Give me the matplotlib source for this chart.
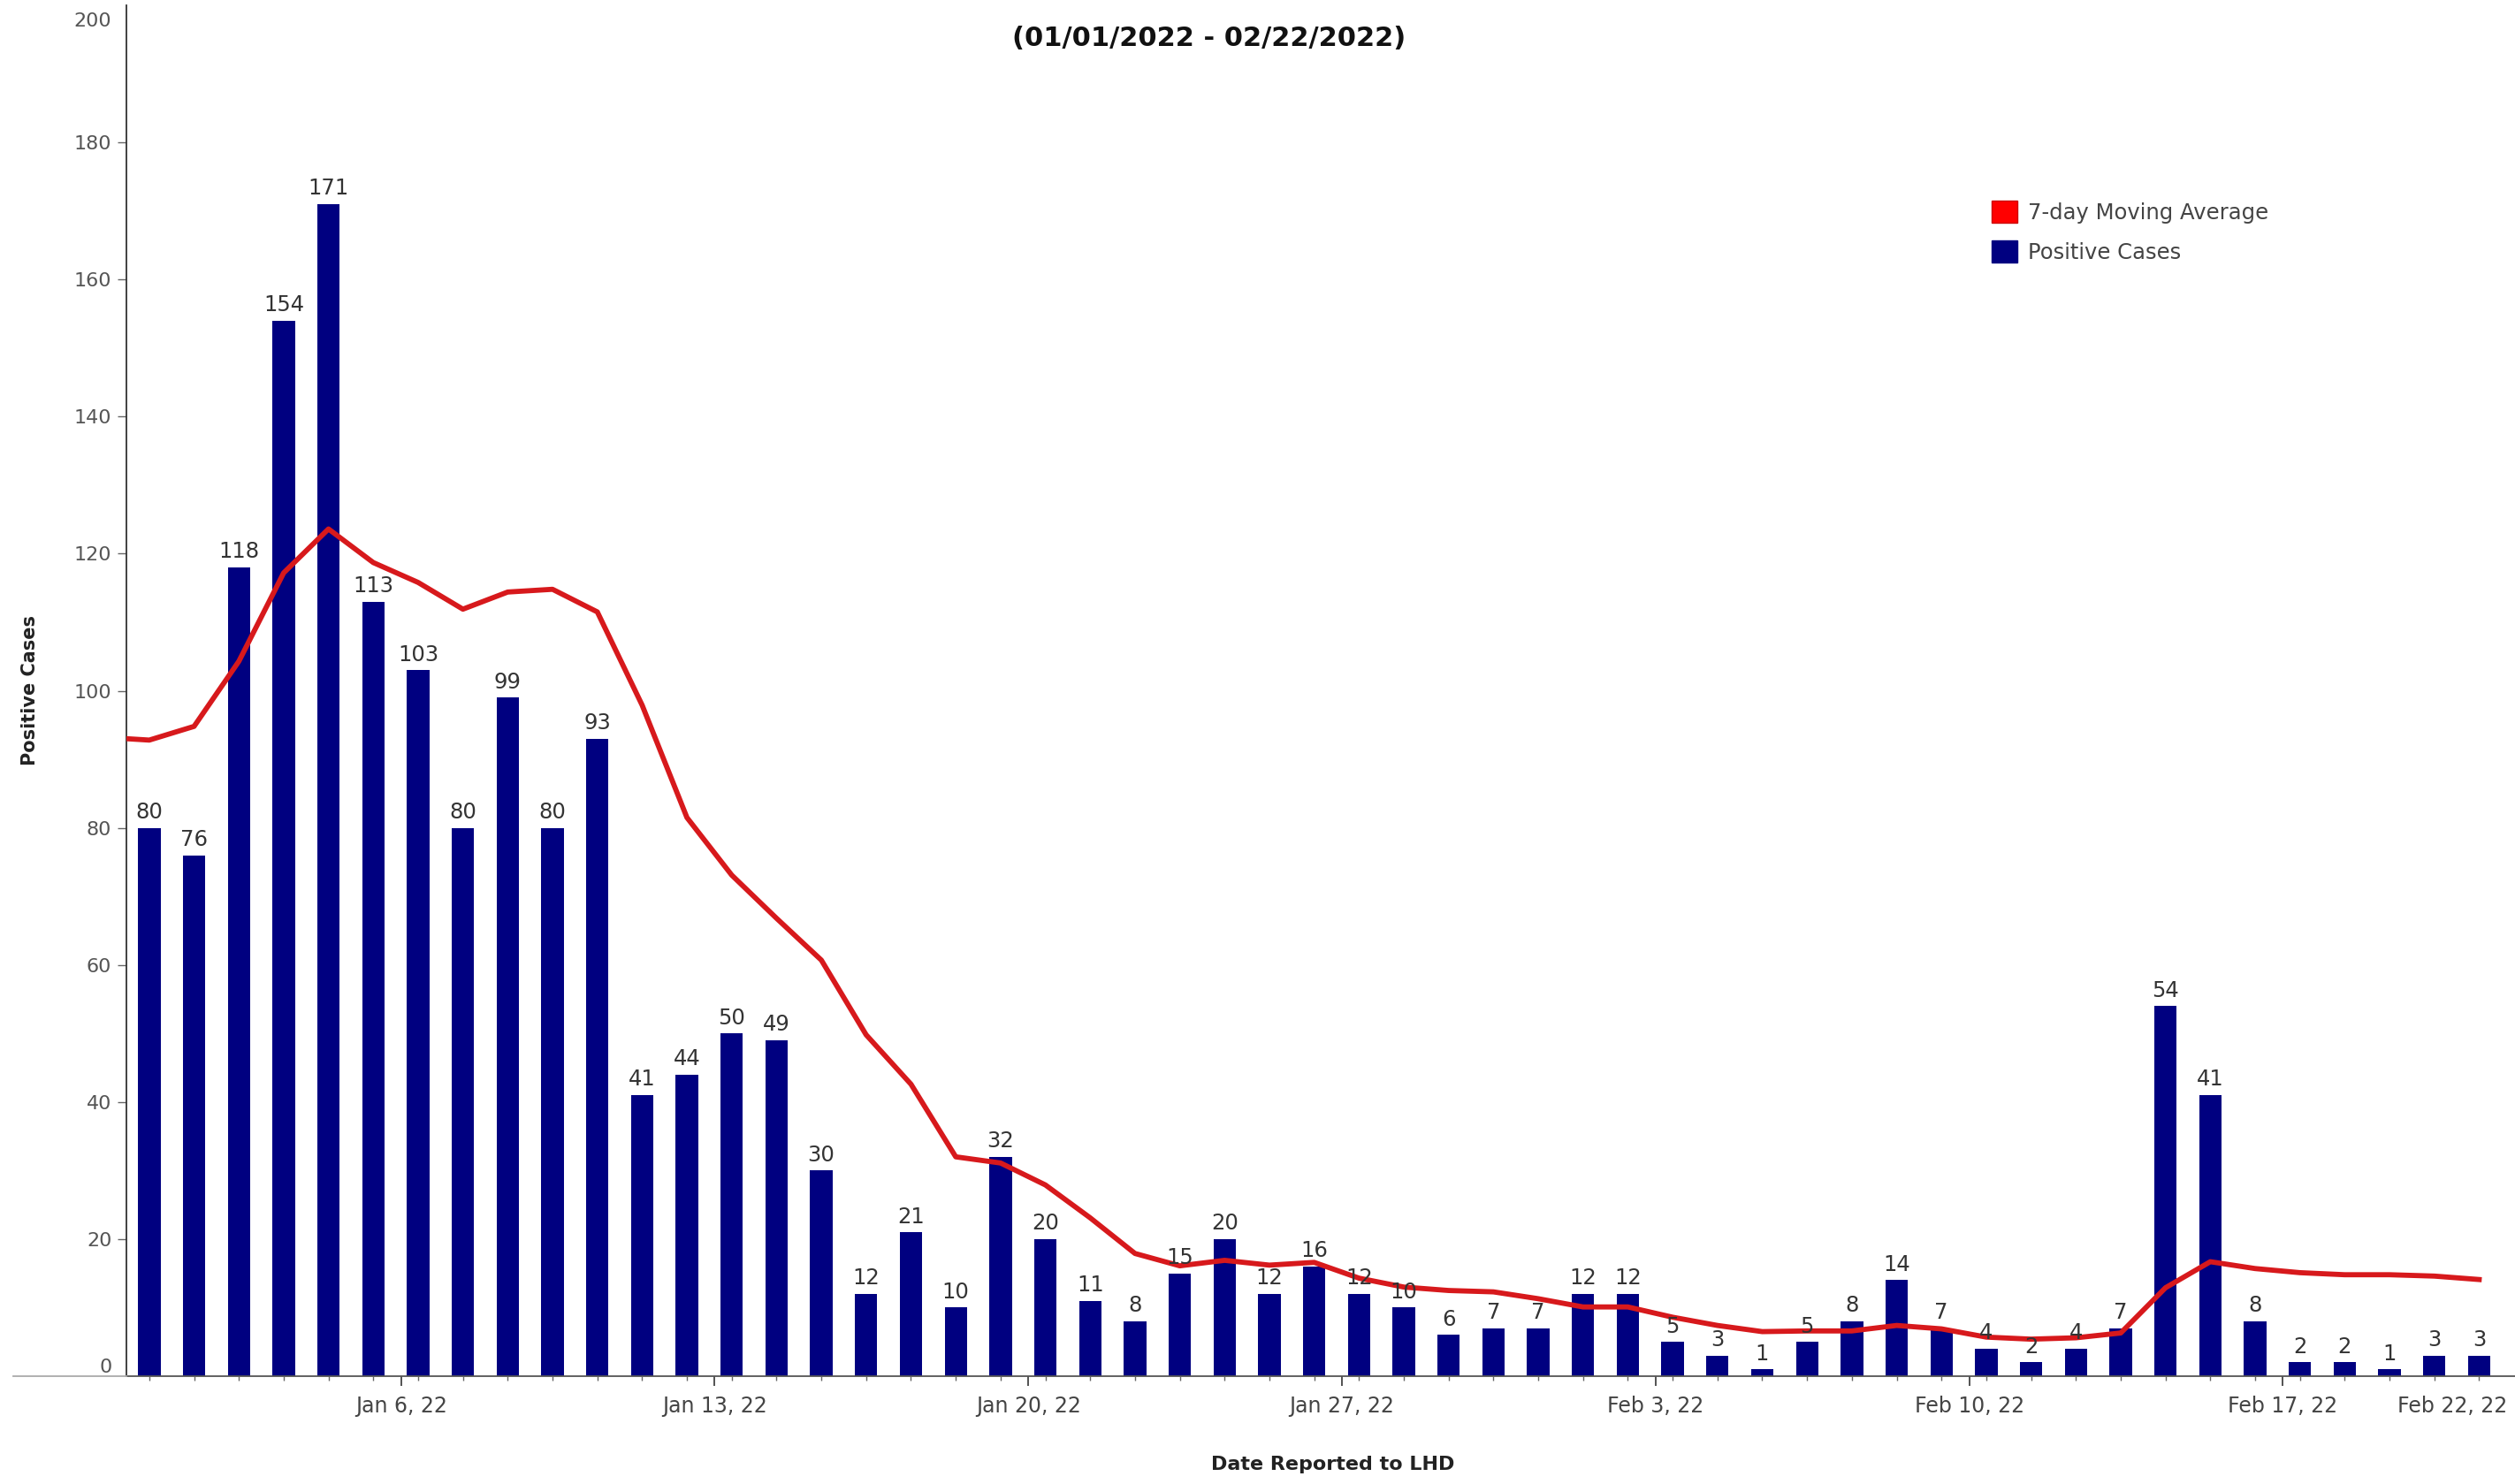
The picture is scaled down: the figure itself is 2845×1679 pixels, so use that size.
import numpy as np
import matplotlib
matplotlib.use("Agg")
import matplotlib.pyplot as plt
from matplotlib.patches import Patch
from matplotlib.lines import Line2D
import matplotlib.transforms as mtransforms

# daily positive cases, Jan 1 2022 .. Feb 22 2022
cases = [80, 76, 118, 154, 171, 113, 103, 80, 99, 80,
         93, 41, 44, 50, 49, 30, 12, 21, 10, 32,
         20, 11, 8, 15, 20, 12, 16, 12, 10, 6,
         7, 7, 12, 12, 5, 3, 1, 5, 8, 14,
         7, 4, 2, 4, 7, 54, 41, 8, 2, 2,
         1, 3, 3]

# 7-day moving average (first value is Dec 31, 2021)
avg_prev = 93.2
moving_avg = [92.8, 94.8, 104.3, 117.2, 123.6, 118.7, 115.8, 111.9, 114.4, 114.8,
              111.5, 97.9, 81.5, 73.1, 66.8, 60.7, 49.8, 42.6, 32.0, 31.1,
              27.9, 23.1, 17.9, 16.1, 16.9, 16.2, 16.6, 14.3, 13.0, 12.5,
              12.3, 11.3, 10.1, 10.1, 8.6, 7.4, 6.5, 6.6, 6.6, 7.4,
              6.9, 5.7, 5.4, 5.6, 6.3, 12.9, 16.7, 15.7, 15.1, 14.8,
              14.8, 14.6, 14.1]

tick_days = [5, 12, 19, 26, 33, 40, 47, 52]
tick_labels = ['Jan 6, 22', 'Jan 13, 22', 'Jan 20, 22', 'Jan 27, 22',
               'Feb 3, 22', 'Feb 10, 22', 'Feb 17, 22', 'Feb 22, 22']

BAR_COL = '#000080'
LINE_COL = '#d7191c'
TICK_SHIFT = 0.62  # date ticks sit a bit right of the bar centres

W, H = 2845, 1679
fig = plt.figure(figsize=(W / 100, H / 100), dpi=100)
ax = fig.add_axes([143 / W, 1 - 1557 / H, 1 - 143 / W, (1557 - 6) / H])

x = np.arange(len(cases))
ax.bar(x, cases, width=0.5, color=BAR_COL, zorder=2)
ax.plot(np.concatenate([[-1], x]), [avg_prev] + moving_avg, color=LINE_COL, lw=4.2,
        solid_joinstyle='round', zorder=3)

for xi, v in zip(x, cases):
    ax.annotate(str(v), (xi, v), xytext=(0, 4), textcoords='offset points',
                ha='center', va='bottom', fontsize=17.5, color='#333333')

ax.set_xlim(-0.51, 52.8)
ax.set_ylim(0, 200)
ax.set_yticks(np.arange(0, 201, 20))

ax.set_xticks([d + TICK_SHIFT for d in tick_days])
ax.set_xticklabels(tick_labels, fontsize=17, color='#444444')
ax.set_xticks(x, minor=True)
ax.tick_params(axis='x', which='major', length=8, width=1.3, color='#444444', pad=8)
ax.tick_params(axis='x', which='minor', length=3.5, width=1.0, color='#666666')
ax.tick_params(axis='y', length=7, width=1.0, color='#666666', labelsize=16,
               labelcolor='#555555', pad=5)

# the last date label is pushed inside the plot, no tick mark
xt = ax.xaxis.get_major_ticks()
xt[-1].tick1line.set_visible(False)
ax.get_xticklabels()[-1].set_ha('right')

yt = ax.yaxis.get_major_ticks()
yt[0].tick1line.set_visible(False)
yt[-1].tick1line.set_visible(False)
ylabs = ax.get_yticklabels()
ylabs[0].set_va('bottom')
ylabs[-1].set_va('top')
ylabs[-1].set_transform(ylabs[-1].get_transform() +
                        mtransforms.ScaledTranslation(0, -6 / 72, fig.dpi_scale_trans))

for s in ['top', 'right']:
    ax.spines[s].set_visible(False)
ax.spines['left'].set_color('#333333')
ax.spines['left'].set_linewidth(1.3)
ax.spines['bottom'].set_color('#555555')
ax.spines['bottom'].set_linewidth(1.3)

# baseline continues left of the y axis
fig.add_artist(Line2D([15 / W, 143 / W], [1 - 1557 / H, 1 - 1557 / H],
                      color='#aaaaaa', lw=1.3))

ax.set_ylabel('Positive Cases', fontsize=15, fontweight='bold', color='#222222')
ax.yaxis.set_label_coords(-0.0366, 0.5)
ax.set_xlabel('Date Reported to LHD', fontsize=16, fontweight='bold', color='#222222')
ax.xaxis.set_label_coords(0.505, -0.058)

fig.text(1368 / W, 1 - 44 / H, '(01/01/2022 - 02/22/2022)', ha='center', va='center',
         fontsize=22, fontweight='bold', color='#111111')

handles = [Patch(facecolor='#ff0000', edgecolor='#cc0000'),
           Patch(facecolor=BAR_COL, edgecolor=BAR_COL)]
fig.legend(handles, ['7-day Moving Average', 'Positive Cases'], loc='upper left',
           bbox_to_anchor=(2253 / W, 1 - 227 / H), frameon=False, fontsize=17.5,
           handlelength=1.2, handleheight=1.2, handletextpad=0.5, labelspacing=0.8,
           borderpad=0, borderaxespad=0, labelcolor='#444444')

fig.savefig('out.png', dpi=100)
